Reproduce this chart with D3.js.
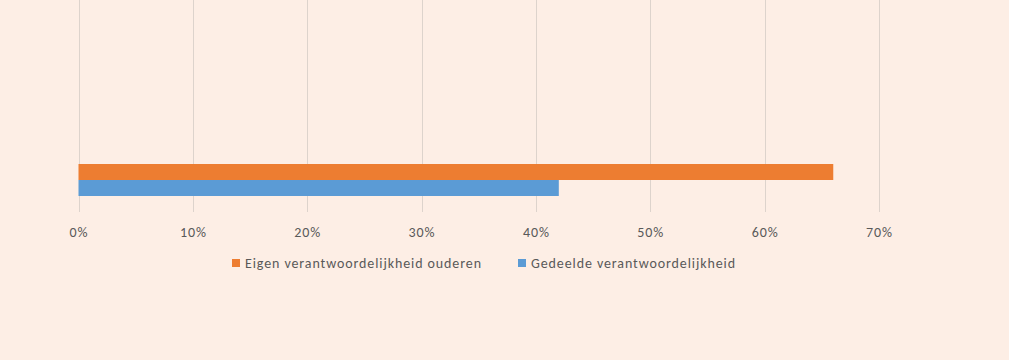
<!DOCTYPE html>
<html>
<head>
	<meta charset="utf-8">
	<title>Verantwoordelijkheid</title>
	<script src="https://cdnjs.cloudflare.com/ajax/libs/d3/7.8.5/d3.min.js"></script>
	<style type="text/css">
		html, body {
			margin: 0;
			padding: 0;
			background: #FDEEE5;
		}
		text {
			font-family: Carlito, Lato, "Open Sans", sans-serif;
			fill: #595959;
			letter-spacing: 0.9px;
		}
		.grid line {
			stroke: #DDD3CC;
			stroke-width: 1px;
		}
		.axis .domain {
			display: none;
		}
	</style>
</head>
<body>
	<script type="text/javascript">
		// data
		var categories = [""];
		var series = ["Eigen verantwoordelijkheid ouderen", "Gedeelde verantwoordelijkheid"];
		var values = [[0.66], [0.42]];
		var ticks = [0, 0.1, 0.2, 0.3, 0.4, 0.5, 0.6, 0.7];
		var colors = ["#ED7D31", "#5B9BD5"];

		var width = 1009,
			height = 360;

		var svg = d3.select("body")
			.append("svg")
				.attr("width", width)
				.attr("height", height);

		var x = d3.scaleLinear()
			.domain([0, 0.7])
			.range([78.5, 879]);

		var y = d3.scaleBand()
			.domain(categories)
			.range([148, 212]);

		var ySeries = d3.scaleBand()
			.domain(series)
			.range([0, y.bandwidth()])
			.paddingOuter(1);

		// gridlines
		svg.append("g")
			.attr("class", "grid")
			.selectAll("line")
			.data(ticks)
			.enter()
			.append("line")
				.attr("x1", function(d) { return Math.round(x(d)) + 0.5; })
				.attr("x2", function(d) { return Math.round(x(d)) + 0.5; })
				.attr("y1", 0)
				.attr("y2", 212);

		// bars
		series.forEach(function(s, i) {
			svg.append("g")
				.selectAll("rect")
				.data(values[i])
				.enter()
				.append("rect")
					.attr("x", x(0))
					.attr("y", function(d, j) { return y(categories[j]) + ySeries(s); })
					.attr("width", function(d) { return x(d) - x(0); })
					.attr("height", ySeries.bandwidth())
					.attr("fill", colors[i]);
		});

		// x axis
		var xAxis = d3.axisBottom(x)
			.tickValues(ticks)
			.tickSize(0)
			.tickPadding(0)
			.tickFormat(d3.format(".0%"));

		svg.append("g")
			.attr("class", "axis")
			.attr("transform", "translate(0,237)")
			.call(xAxis)
			.selectAll("text")
				.attr("dy", null)
				.style("font-size", "14px")
				.style("fill", "#595959");

		// legend
		var legendX = [232, 518];
		var legend = svg.append("g")
			.selectAll("g")
			.data(series)
			.enter()
			.append("g")
				.attr("transform", function(d, i) { return "translate(" + legendX[i] + ",259)"; });

		legend.append("rect")
			.attr("width", 8)
			.attr("height", 8)
			.attr("fill", function(d, i) { return colors[i]; });

		legend.append("text")
			.attr("x", 13)
			.attr("y", 9)
			.style("font-size", "14px")
			.text(function(d) { return d; });
	</script>
</body>
</html>
